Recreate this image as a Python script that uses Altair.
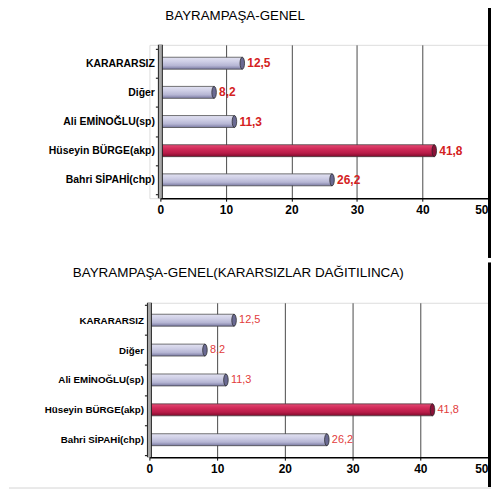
import altair as alt
import pandas as pd

# ---- data ----
categories = ["KARARARSIZ", "Diğer", "Ali EMİNOĞLU(sp)", "Hüseyin BÜRGE(akp)", "Bahri SİPAHİ(chp)"]
values_genel = [12.5, 8.2, 11.3, 41.8, 26.2]
labels_genel = ["12,5", "8,2", "11,3", "41,8", "26,2"]
values_dagitilinca = [12.5, 8.2, 11.3, 41.8, 26.2]
labels_dagitilinca = ["12,5", "8,2", "11,3", "41,8", "26,2"]
x_ticks = [0, 10, 20, 30, 40, 50]
highlight = "Hüseyin BÜRGE(akp)"
title_top = "BAYRAMPAŞA-GENEL"
title_bottom = "BAYRAMPAŞA-GENEL(KARARSIZLAR DAĞITILINCA)"

FONT = "Liberation Sans"
ELLIPSE = "M0,-1A0.38,1,0,1,1,0,1A0.38,1,0,1,1,0,-1Z"


def grad(c0, c1, c2, c3):
    return alt.Gradient(
        gradient="linear", x1=0, x2=0, y1=0, y2=1,
        stops=[alt.GradientStop(color=c0, offset=0),
               alt.GradientStop(color=c1, offset=0.35),
               alt.GradientStop(color=c2, offset=0.7),
               alt.GradientStop(color=c3, offset=1)])


LAV = grad("#e2e2f2", "#cfcfe6", "#b6b6d4", "#7a7aa2")
RED = grad("#e44a74", "#d02a58", "#b81c48", "#7c0c2c")


def panel(values, labels, title, title_dx, title_y, title_size, width, height,
          x_range, pad_outer, axis_offset, tick_size, label_size,
          value_color, value_size, value_weight, value_dx, strip_top, strip_bottom,
          bottom_line=None):
    df = pd.DataFrame({"cat": categories, "val": values, "lab": labels})
    xenc = alt.X(
        "val:Q",
        scale=alt.Scale(domain=[0, 50], range=x_range, nice=False, zero=True),
        axis=alt.Axis(
            values=x_ticks, title=None, grid=True, gridColor="#4a4a4a", gridWidth=1,
            domainColor="#000", domainWidth=1.5, tickColor="#000", tickSize=3,
            labelFont=FONT, labelFontSize=12, labelFontWeight="bold", labelColor="#000",
            labelPadding=3,
            labelAlign={"condition": {"test": "datum.value == 50", "value": "right"}, "value": "center"},
        ),
    )
    yenc = alt.Y(
        "cat:N", sort=categories,
        scale=alt.Scale(paddingInner=0, paddingOuter=pad_outer),
        axis=alt.Axis(
            title=None, domain=False, grid=False, ticks=True, tickBand="extent",
            tickSize=tick_size, tickColor="#000", labelPadding=1, offset=axis_offset,
            labelFont=FONT, labelFontSize=label_size, labelFontWeight="bold", labelColor="#000",
        ),
    )
    base = alt.Chart(df).encode(x=xenc, y=yenc)

    text = base.mark_text(align="left", baseline="middle", dx=value_dx, font=FONT,
                          fontSize=value_size, fontWeight=value_weight, color=value_color
                          ).encode(text="lab:N")
    bars = base.transform_filter(alt.datum.cat != highlight).mark_bar(
        fill=LAV, stroke="#3a3a3a", strokeWidth=0.7, size=12)
    bars_hi = base.transform_filter(alt.datum.cat == highlight).mark_bar(
        fill=RED, stroke="#3a3a3a", strokeWidth=0.7, size=12)
    caps = base.mark_point(shape=ELLIPSE, size=144, filled=True, opacity=1,
                           stroke="#222", strokeWidth=0.7).encode(
        fill=alt.condition(alt.datum.cat == highlight, alt.value("#8a1238"), alt.value("#6a6a92")))

    one = pd.DataFrame({"v": [0]})
    wall_out = alt.Chart(one).mark_rule(color="#222", strokeWidth=5).encode(
        x=alt.datum(0), y=alt.value(0), y2=alt.value(height))
    wall_in = alt.Chart(one).mark_rule(color="#a8a8a8", strokeWidth=3).encode(
        x=alt.datum(0), y=alt.value(0), y2=alt.value(height))
    strip = alt.Chart(one).mark_rule(color="#000", strokeWidth=3).encode(
        x=alt.value(width + 1.5), y=alt.value(strip_top), y2=alt.value(strip_bottom))
    ttl = alt.Chart(one).mark_text(text=title, align="left", baseline="top",
                                   font=FONT, fontSize=title_size, color="#000").encode(
        x=alt.value(title_dx), y=alt.value(title_y))

    layers = [text, bars, bars_hi, caps, wall_out, wall_in, strip, ttl]
    if bottom_line is not None:
        line = alt.Chart(one).mark_rule(color="#d4d4d4", strokeWidth=1).encode(
            x=alt.value(-141), x2=alt.value(width + 3), y=alt.value(height + bottom_line))
        layers.append(line)

    return alt.layer(*layers).properties(width=width, height=height)


top = panel(values_genel, labels_genel, title_top, 16, -36, 13.4, 340, 154,
            [11, 340], 0.13, -11, 5, 10.5,
            "#d42222", 12, "bold", 5, -39.5, 214)
bottom = panel(values_dagitilinca, labels_dagitilinca, title_bottom, -77, -37, 13.5, 340, 155,
               [0, 340], 0.083, 0, 5, 9.8,
               "#e23c3c", 11, "normal", 5, -40.5, 185, bottom_line=31)

chart = alt.vconcat(top, bottom, spacing=0).properties(
    padding={"top": -6, "bottom": 0, "left": 0, "right": 0}
).configure_view(stroke=None).configure(font=FONT)

chart.save("out.html", embed_options={"renderer": "svg", "actions": False})
